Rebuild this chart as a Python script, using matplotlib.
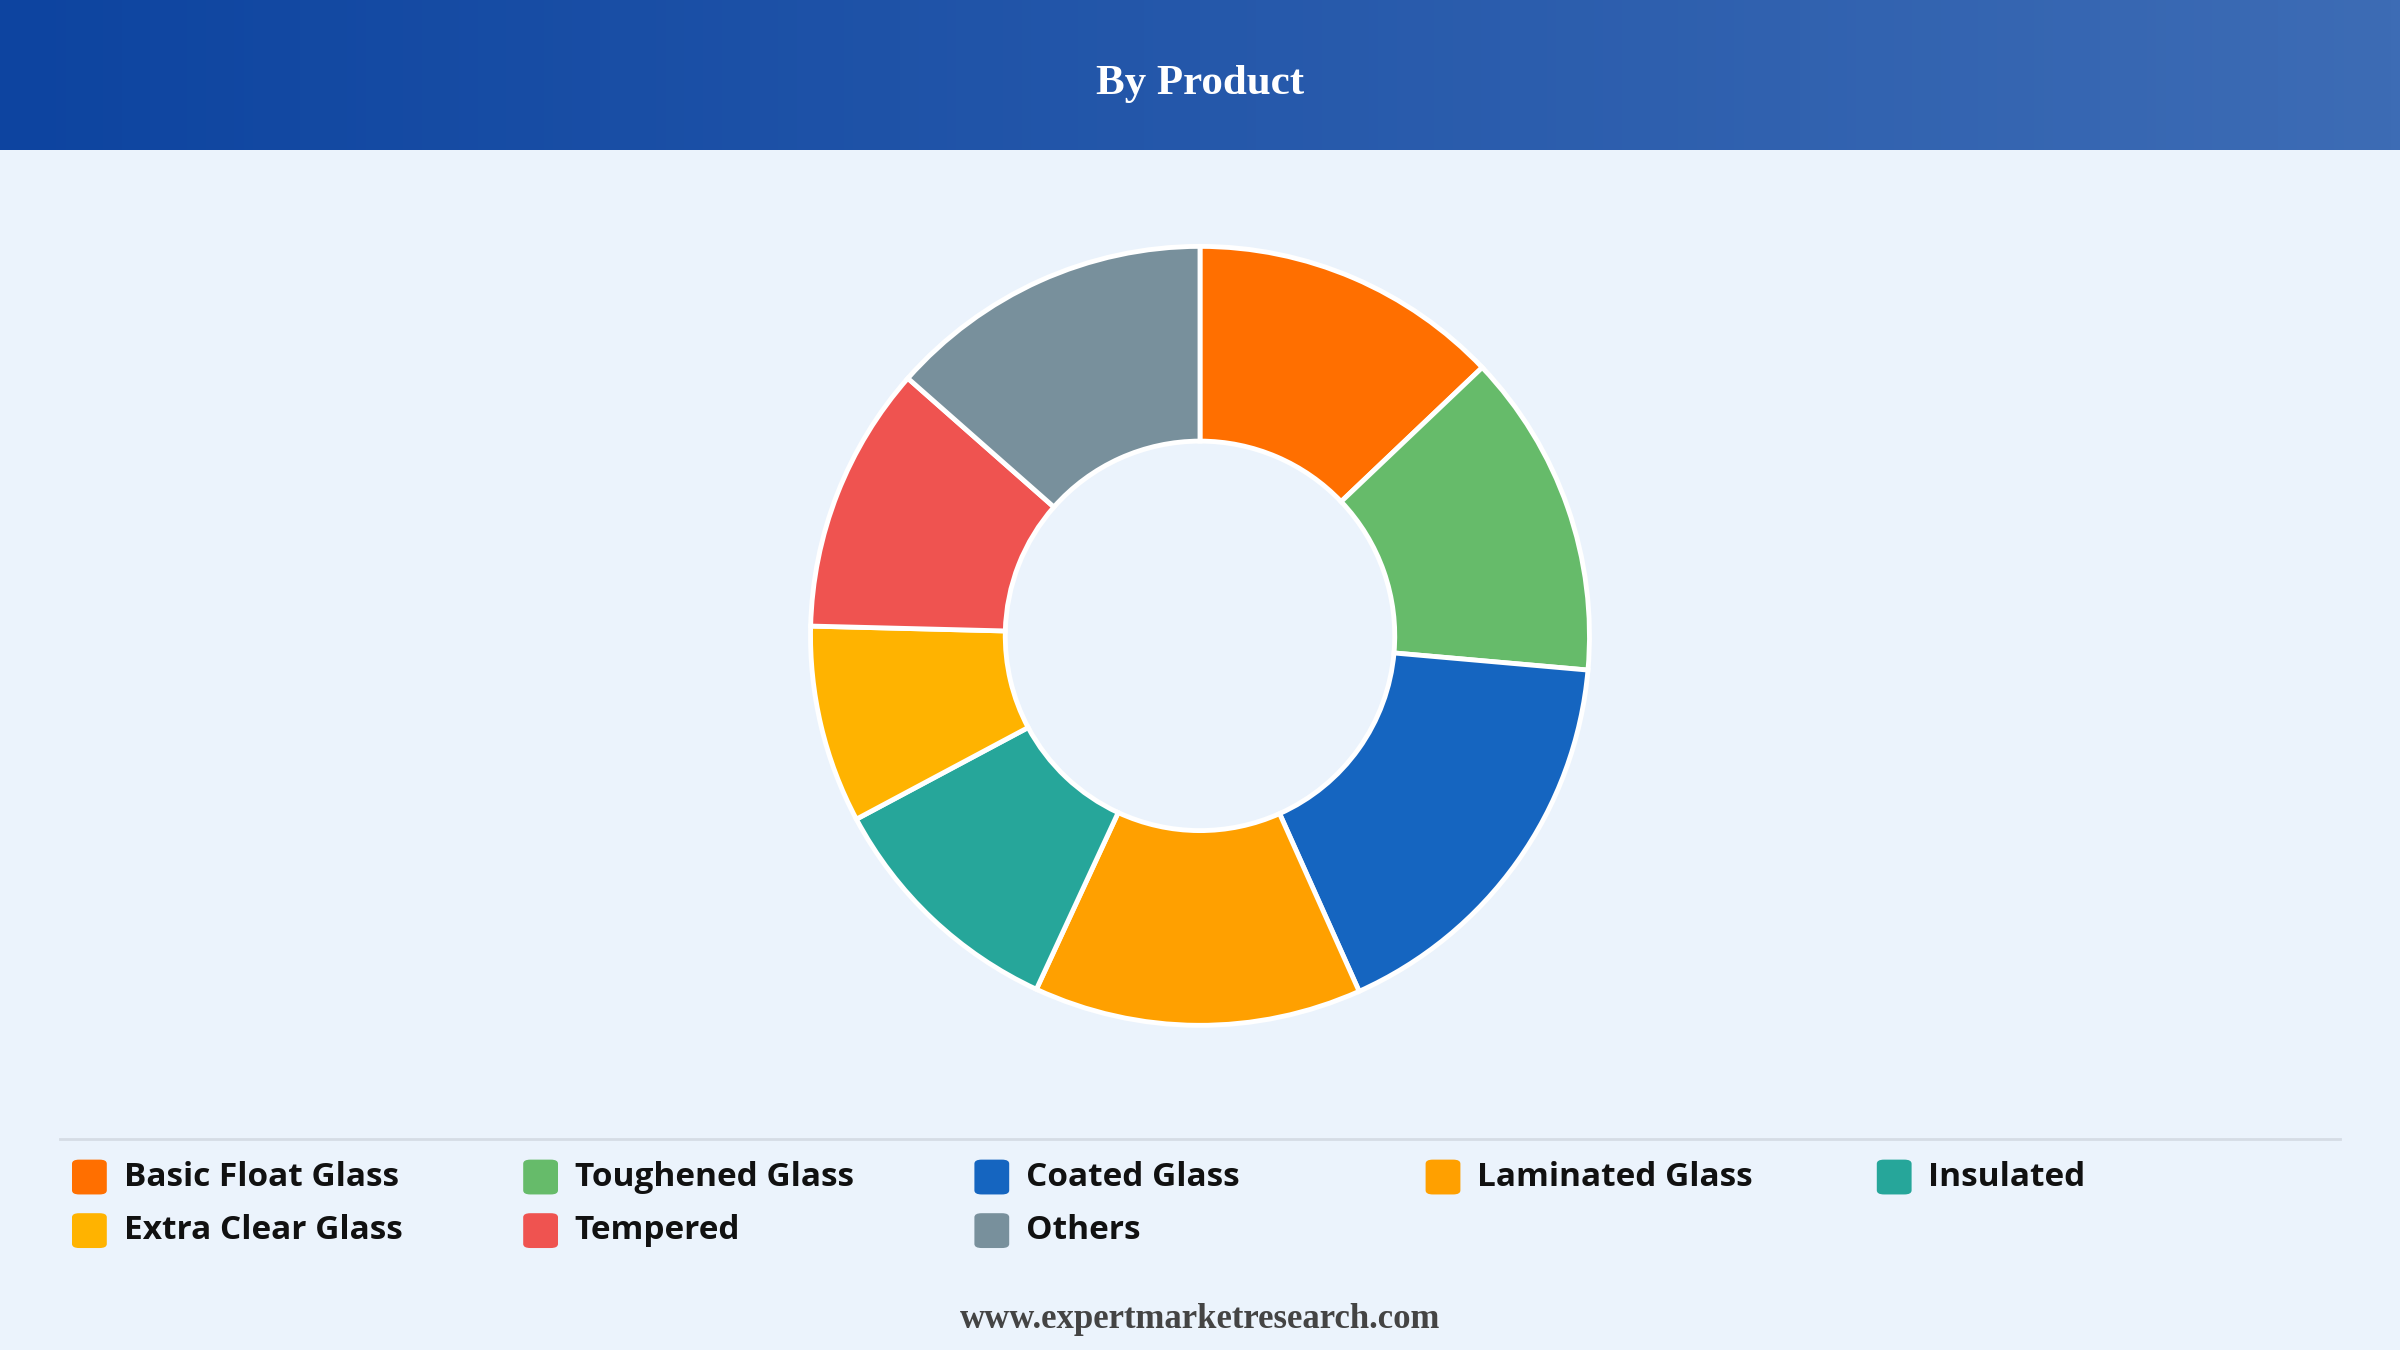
import matplotlib
matplotlib.use("Agg")
import matplotlib.pyplot as plt
import numpy as np
from matplotlib.patches import FancyBboxPatch
from matplotlib.colors import LinearSegmentedColormap

categories = ["Basic Float Glass", "Toughened Glass", "Coated Glass", "Laminated Glass",
              "Insulated", "Extra Clear Glass", "Tempered", "Others"]
values = [12.9, 13.5, 16.9, 13.6, 10.3, 8.2, 11.1, 13.5]
colors = ["#FF6F00", "#66BB6A", "#1565C0", "#FFA000", "#26A69A", "#FFB300", "#EF5350", "#78909C"]

fig = plt.figure(figsize=(24, 13.5), dpi=100)
fig.patch.set_facecolor("#EBF3FC")

hax = fig.add_axes([0, 1 - 98/882, 1, 98/882])
grad = np.linspace(0, 1, 512).reshape(1, -1)
cmap = LinearSegmentedColormap.from_list("h", ["#0D44A0", "#3D6CB5"])
hax.imshow(grad, aspect="auto", cmap=cmap, extent=[0, 1, 0, 1])
hax.axis("off")
hax.text(0.5, 0.44, "By Product", color="white", fontsize=31, fontweight="bold",
         family="Liberation Serif", ha="center", va="center")

h = 2 * 0.2885
w = h * 1350 / 2400
ax = fig.add_axes([0.5 - w/2, 0.529 - h/2, w, h])
ax.pie(values, colors=colors, startangle=90, counterclock=False,
       wedgeprops=dict(width=0.5, edgecolor="white", linewidth=3.5))
ax.set_xlim(-1, 1); ax.set_ylim(-1, 1)
ax.set_aspect("equal")
ax.axis("off")

fig.add_artist(plt.Line2D([0.025, 0.975], [1 - 744/882]*2, color="#D5DCE5", lw=2))

xs = [0.030, 0.218, 0.406, 0.594, 0.782]
ys = [1 - 769/882, 1 - 804/882]
sw, sh = 0.0145, 0.0258
for i, (c, col) in enumerate(zip(categories, colors)):
    x = xs[i % 5]; y = ys[i // 5]
    p = FancyBboxPatch((x, y - sh/2), sw, sh, boxstyle="round,pad=0,rounding_size=0.003",
                       transform=fig.transFigure, facecolor=col, edgecolor="none")
    fig.add_artist(p)
    fig.text(x + 0.0215, y, c, fontsize=24, fontweight="bold", family="Open Sans",
             va="center", ha="left", color="#111111")

fig.text(0.5, 1 - 862/882, "www.expertmarketresearch.com", fontsize=25, fontweight="bold",
         family="Liberation Serif", ha="center", va="center", color="#444444")

fig.savefig("out.png", dpi=100, facecolor=fig.get_facecolor())
